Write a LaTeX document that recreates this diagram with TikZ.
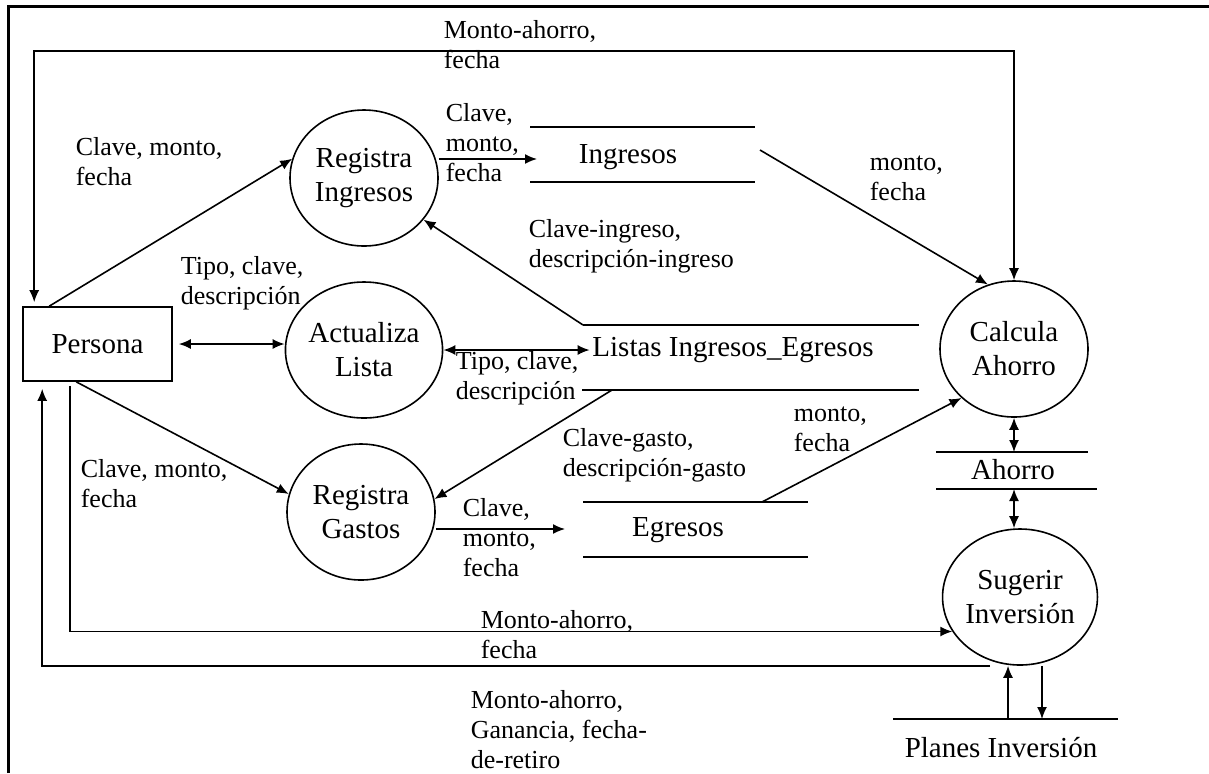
\documentclass[tikz,border=0pt]{standalone}
\usepackage{fontspec}
\setmainfont{Liberation Serif}
\usetikzlibrary{arrows.meta,shapes.geometric}

\begin{document}
\begin{tikzpicture}[x=0.5pt, y=-0.5pt, line width=0.8pt,
  proc/.style={draw, ellipse, minimum width=74pt, minimum height=68pt, inner sep=0pt, align=center, font=\fontsize{14.5}{17}\selectfont},
  ent/.style={draw, rectangle, minimum width=74.5pt, minimum height=37pt, font=\fontsize{14.5}{17}\selectfont},
  store/.style={inner sep=1pt, font=\fontsize{14.5}{17}\selectfont},
  lbl/.style={anchor=west, align=left, inner sep=0pt, font=\fontsize{13}{15}\selectfont},
  flow/.style={-{Latex[length=6pt,width=5pt]}},
  twoway/.style={{Latex[length=6pt,width=5pt]}-{Latex[length=6pt,width=5pt]}}]

\useasboundingbox (0,0) rectangle (1209,773);
\draw[line width=1.5pt] (8,773) -- (8,6) -- (1209,6);

% procesos
\node[ent] (pers) at (97.5,344) {Persona};
\node[proc] (regI) at (364,178) {Registra\\Ingresos};
\node[proc] (act) at (364,350) {Actualiza\\Lista};
\node[proc] (regG) at (361,512) {Registra\\Gastos};
\node[proc] (calc) at (1014,349) {Calcula\\Ahorro};
\node[proc] (sug) at (1020,597) {Sugerir\\Inversión};

% almacenes
\node[store] (ing) at (628,157) {Ingresos};
\draw (530,127) -- (755,127);
\draw (530,182) -- (755,182);
\node[store] (lis) at (733,350) {Listas Ingresos\_Egresos};
\draw (583,325) -- (919,325);
\draw (582,390) -- (919,390);
\node[store] (egr) at (678,530) {Egresos};
\draw (583,502) -- (808,502);
\draw (583,557) -- (808,557);
\node[store] (aho) at (1013,470) {Ahorro};
\draw (936,452) -- (1088,452);
\draw (936,489) -- (1097,489);
\node[store] (plan) at (1001,748) {Planes Inversión};
\draw (893,719) -- (1118,719);

\coordinate (ingIn) at (537,159);
\coordinate (ingOut) at (760,150);
\coordinate (lisUp) at (583,325);
\coordinate (lisDn) at (612,390);
\coordinate (egIn) at (565,529);
\coordinate (egOut) at (762,502);
\coordinate (ahTop) at (1014,452);
\coordinate (ahBot) at (1014,489);
\coordinate (plUp) at (1008,719);
\coordinate (plDn) at (1042,719);
\coordinate (loopTop) at (500,51);

% flujos
\draw[flow] ([xshift=13.5pt]pers.north west) -- (regI.165);
\draw[twoway] ([xshift=3pt]pers.east) -- (act.west |- pers.east);
\draw[flow] ([xshift=27pt]pers.south west) -- (regG.166);
\draw[flow] (regI.east |- ingIn) -- (ingIn);
\draw[flow] (lisUp) -- (regI.-35);
\draw[twoway] (act.east) -- (lis.west);
\draw[flow] (lisDn) -- (regG.10);
\draw[flow] (regG.east |- egIn) -- (egIn);
\draw[flow] (ingOut) -- (calc.112);
\draw[flow] (egOut) -- (calc.223);
\draw[twoway] (calc.south) -- (ahTop);
\draw[twoway] (ahBot) -- (ahBot |- sug.north);
\draw[twoway] ([xshift=6pt,yshift=2pt]pers.north west) |- (loopTop) -| (calc.north);
\draw[flow] ([xshift=-15pt]sug.south) -| ([xshift=10pt,yshift=-3.5pt]pers.south west);
\draw[flow] ([xshift=24pt,yshift=-2pt]pers.south west) |- (sug.207);
\draw[flow] (plUp) -- (plUp |- sug.south);
\draw[flow] (plDn |- sug.south) -- (plDn);

% etiquetas
\node[lbl] (l1) at (443,45) {Monto-ahorro,\\fecha};
\node[lbl] (l2) at (75,162) {Clave, monto,\\fecha};
\node[lbl] (l3) at (445,143) {Clave,\\monto,\\fecha};
\node[lbl] (l4) at (180,283) {Tipo, clave,\\descripción};
\node[lbl] (l5) at (528,246) {Clave-ingreso,\\descripción-ingreso};
\node[lbl] (l6) at (869,178) {monto,\\fecha};
\node[lbl] (l7) at (455,378) {Tipo, clave,\\descripción};
\node[lbl] (l8) at (793,429) {monto,\\fecha};
\node[lbl] (l9) at (562,455) {Clave-gasto,\\descripción-gasto};
\node[lbl] (l10) at (462,538) {Clave,\\monto,\\fecha};
\node[lbl] (l11) at (80,484) {Clave, monto,\\fecha};
\node[lbl] (l12) at (480,635) {Monto-ahorro,\\fecha};
\node[lbl] (l13) at (470,730) {Monto-ahorro,\\Ganancia, fecha-\\de-retiro};

\end{tikzpicture}
\end{document}
